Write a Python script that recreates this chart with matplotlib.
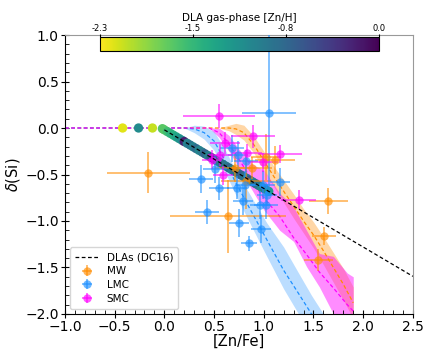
"""Si depletion vs [Zn/Fe] for DLAs, MW, LMC and SMC"""
import matplotlib
matplotlib.use("Agg")
import matplotlib.pyplot as plt
from matplotlib.ticker import MultipleLocator
import numpy as np

## DLA relation (DC16): delta(Si) = A + B [Zn/Fe]
DLA_A = -0.02
DLA_B = -0.63
DLA_LINE_X = [0.0, 2.5]

## DLA points, coloured by gas-phase [Zn/H]
DLA_ZNFE = [-0.42, -0.26, -0.12, -0.02, 0.0, 0.03, 0.06, 0.09, 0.12, 0.15,
            0.18, 0.20, 0.23, 0.26, 0.29, 0.32, 0.35, 0.38, 0.41, 0.44,
            0.47, 0.50, 0.53, 0.56, 0.59, 0.62, 0.65, 0.68, 0.71, 0.74,
            0.77, 0.80, 0.83, 0.86, 0.89, 0.92, 0.95, 0.98, 1.01, 1.05]
DLA_ZNH = [-2.2, -1.1, -2.1, -1.7, -1.7, -1.6, -1.5, -1.45, -1.35, -1.2,
           -1.1, -0.2, -1.0, -0.9, -1.0, -0.8, -1.05, -0.95, -0.7, -1.0,
           -0.6, -0.3, -0.9, -1.0, -0.85, -0.95, -0.75, -1.0, -0.8, -0.9,
           -0.7, -0.85, -0.95, -0.6, -1.0, -0.8, -0.9, -1.1, -0.95, -1.25]

## MW
MW_X = [-0.16, 0.71, 0.88, 0.82, 0.64, 1.02, 1.11, 1.65, 1.61, 1.55]
MW_Y = [-0.48, -0.43, -0.43, -0.57, -0.95, -0.31, -0.34, -0.79, -1.16, -1.42]
MW_XERR = [0.42, 0.20, 0.20, 0.25, 0.58, 0.15, 0.20, 0.20, 0.12, 0.15]
MW_YERR = [0.22, 0.15, 0.12, 0.30, 0.39, 0.25, 0.15, 0.14, 0.10, 0.12]

## LMC
LMC_X = [1.05, 0.365, 0.55, 0.425, 0.75, 0.85, 0.97, 0.79, 0.73, 0.81,
         0.51, 0.68, 0.74, 0.82, 0.99, 1.03, 1.02, 0.96, 1.16]
LMC_Y = [0.16, -0.55, -0.65, -0.90, -1.02, -1.24, -1.09, -0.79, -0.64, -0.61,
         -0.44, -0.22, -0.29, -0.36, -0.61, -0.72, -0.83, -0.83, -0.58]
LMC_XERR = [0.27, 0.12, 0.10, 0.12, 0.10, 0.08, 0.10, 0.10, 0.10, 0.10,
            0.12, 0.12, 0.10, 0.12, 0.12, 0.10, 0.12, 0.10, 0.10]
LMC_YERR = [0.85, 0.15, 0.12, 0.13, 0.15, 0.08, 0.15, 0.15, 0.12, 0.15,
            0.15, 0.15, 0.15, 0.12, 0.15, 0.12, 0.15, 0.15, 0.15]

## SMC
SMC_X = [0.55, 0.89, 0.61, 0.83, 1.16, 0.99, 0.56, 0.59, 1.35, 0.48]
SMC_Y = [0.13, -0.09, -0.16, -0.27, -0.28, -0.37, -0.29, -0.51, -0.77, -0.34]
SMC_XERR = [0.36, 0.22, 0.15, 0.15, 0.22, 0.15, 0.12, 0.10, 0.18, 0.10]
SMC_YERR = [0.13, 0.12, 0.12, 0.10, 0.10, 0.10, 0.12, 0.10, 0.10, 0.10]

## fits with their uncertainty bands
MW_FIT_X = [-1.0, 0.55, 0.65, 0.72, 0.8, 0.9, 1.0, 1.1, 1.2, 1.3, 1.4, 1.5, 1.6, 1.7, 1.8, 1.9]
MW_FIT_Y = [0.0, 0.0, 0.0, -0.01, -0.05, -0.18, -0.35, -0.52, -0.68, -0.84, -1.0, -1.15, -1.32, -1.5, -1.68, -1.88]
MW_FIT_LO = [0.0, 0.0, -0.03, -0.07, -0.13, -0.27, -0.45, -0.63, -0.80, -0.97, -1.13, -1.29, -1.47, -1.66, -1.85, -2.05]
MW_FIT_HI = [0.0, 0.0, 0.03, 0.05, 0.03, -0.09, -0.25, -0.41, -0.56, -0.71, -0.87, -1.01, -1.17, -1.34, -1.51, -1.71]

LMC_FIT_X = [-1.0, 0.2, 0.3, 0.4, 0.5, 0.6, 0.7, 0.83, 1.03, 1.2, 1.35, 1.48, 1.6]
LMC_FIT_Y = [0.0, 0.0, -0.01, -0.05, -0.14, -0.33, -0.55, -0.81, -1.2, -1.53, -1.78, -2.0, -2.2]
LMC_FIT_LO = [0.0, 0.0, -0.05, -0.12, -0.24, -0.45, -0.68, -0.96, -1.38, -1.73, -2.0, -2.25, -2.45]
LMC_FIT_HI = [0.0, 0.0, 0.03, 0.02, -0.04, -0.21, -0.42, -0.66, -1.02, -1.28, -1.56, -1.80, -2.0]

SMC_FIT_X = [-1.0, 0.45, 0.55, 0.65, 0.8, 0.9, 1.0, 1.16, 1.3, 1.43, 1.56, 1.7, 1.84, 1.9]
SMC_FIT_Y = [0.0, 0.0, -0.05, -0.17, -0.42, -0.6, -0.75, -0.95, -1.18, -1.36, -1.55, -1.72, -1.9, -1.97]
SMC_FIT_LO = [0.0, 0.0, -0.1, -0.25, -0.52, -0.70, -0.88, -1.10, -1.22, -1.49, -1.71, -2.0, -2.2, -2.2]
SMC_FIT_HI = [0.0, 0.0, 0.0, -0.08, -0.30, -0.40, -0.45, -0.70, -0.85, -1.10, -1.35, -1.38, -1.56, -1.60]

ZNH_TICKS = np.linspace(-2.3, 0.0, 4)

C_MW = "darkorange"
C_LMC = "dodgerblue"
C_SMC = "magenta"

fig = plt.figure(figsize=(4.36, 3.49), dpi=100)
ax = fig.add_axes([0.149, 0.1003, 0.798, 0.7994])

# bands and fits
for fx, fy, lo, hi, col, al in [(MW_FIT_X, MW_FIT_Y, MW_FIT_LO, MW_FIT_HI, C_MW, 0.35),
                                (LMC_FIT_X, LMC_FIT_Y, LMC_FIT_LO, LMC_FIT_HI, C_LMC, 0.3),
                                (SMC_FIT_X, SMC_FIT_Y, SMC_FIT_LO, SMC_FIT_HI, C_SMC, 0.45)]:
    ax.fill_between(fx, lo, hi, color=col, alpha=al, lw=0, zorder=1)
    ax.plot(fx, fy, ls="--", color=col, lw=0.9, dashes=(3, 2), zorder=2)

# DLA points on the DC16 relation (no positive depletion)
dla_x = np.array(DLA_ZNFE)
dla_y = np.minimum(DLA_A + DLA_B * dla_x, 0.0)
sc = ax.scatter(dla_x, dla_y, c=DLA_ZNH, cmap="viridis_r", vmin=-2.3, vmax=0.0,
                s=45, edgecolors="none", zorder=3)

# galaxies
for xs, ys, xe, ye, col, lab in [(MW_X, MW_Y, MW_XERR, MW_YERR, C_MW, "MW"),
                                 (LMC_X, LMC_Y, LMC_XERR, LMC_YERR, C_LMC, "LMC"),
                                 (SMC_X, SMC_Y, SMC_XERR, SMC_YERR, C_SMC, "SMC")]:
    ax.errorbar(xs, ys, xerr=xe, yerr=ye, fmt="o", color=col, ms=6, mec="none",
                elinewidth=1.2, alpha=0.65, capsize=0, label=lab, zorder=4)

line_x = np.array(DLA_LINE_X)
ax.plot(line_x, DLA_A + DLA_B * line_x, "k--", lw=0.9, dashes=(3, 2),
        label="DLAs (DC16)", zorder=5)

ax.set_xlim(-1.0, 2.5)
ax.set_ylim(-2.0, 1.0)
ax.xaxis.set_minor_locator(MultipleLocator(0.1))
ax.yaxis.set_minor_locator(MultipleLocator(0.1))
ax.tick_params(which="major", direction="inout", length=6, labelsize=10, pad=1.5,
               top=False, right=False)
ax.tick_params(which="minor", direction="in", length=3, top=False, right=False)
ax.spines["top"].set_color("0.6")
ax.spines["right"].set_color("0.6")
ax.set_xlabel("[Zn/Fe]", fontsize=10.5, labelpad=0)
ax.set_ylabel(r"$\delta$(Si)", fontsize=10.5, labelpad=2)

handles, labels = ax.get_legend_handles_labels()
order = [labels.index(n) for n in ["DLAs (DC16)", "MW", "LMC", "SMC"]]
ax.legend([handles[i] for i in order], [labels[i] for i in order],
          loc="lower left", fontsize=7.5, framealpha=0.8, handlelength=2.2,
          borderpad=0.5, labelspacing=0.35)

# colour bar
cax = fig.add_axes([0.229, 0.854, 0.640, 0.040])
cb = fig.colorbar(sc, cax=cax, orientation="horizontal", ticks=ZNH_TICKS)
cb.ax.xaxis.set_ticks_position("top")
cb.ax.xaxis.set_label_position("top")
cb.ax.set_xticklabels(["%.1f" % t for t in ZNH_TICKS])
cb.ax.tick_params(labelsize=6, length=2, pad=1)
cb.set_label("DLA gas-phase [Zn/H]", fontsize=7.5, labelpad=2)

fig.savefig("out.png", dpi=100)
